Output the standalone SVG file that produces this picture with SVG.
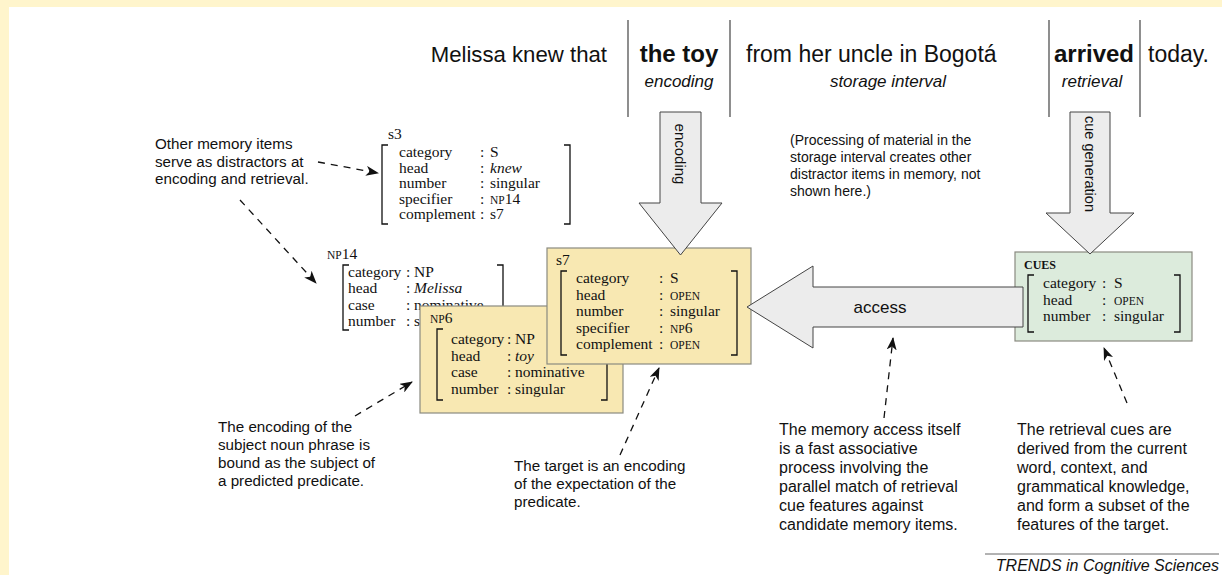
<svg xmlns="http://www.w3.org/2000/svg" width="1222" height="575" viewBox="0 0 1222 575">
<defs>
<marker id="ah" markerWidth="13" markerHeight="10" refX="12" refY="5" orient="auto" markerUnits="userSpaceOnUse">
<path d="M0,0 L13,5 L0,10 L3.5,5 Z" fill="#111"/>
</marker>
</defs>
<style>
.sans{font-family:"Liberation Sans",Arial,Helvetica,sans-serif;fill:#111}
.serif{font-family:"Liberation Serif","Times New Roman",serif;fill:#111;font-size:15.5px}
.big{font-size:23px}
.bold{font-size:24px;font-weight:bold}
.lab{font-size:17px;font-style:italic}
.note{font-size:16px}
.note15{font-size:15.2px}
.sm{font-size:14px}
.sc{font-size:11.5px}
.it{font-style:italic}
.vline{stroke:#444;stroke-width:1.2}
.arrow{fill:#ececec;stroke:#444;stroke-width:1}
.box{stroke:#8a8a80;stroke-width:1.2}
.yel{fill:#f8e8b2}
.grn{fill:#dcebdc}
.br{fill:none;stroke:#111;stroke-width:1.3}
.dash{fill:none;stroke:#111;stroke-width:1.3;stroke-dasharray:7 6;marker-end:url(#ah)}
</style>
<rect x="0" y="0" width="1222" height="575" fill="#fff5cc"/>
<rect x="9" y="7" width="1213" height="568" fill="#ffffff"/>

<g id="sentence">
<text class="sans" x="607" y="62" text-anchor="end" style="font-size:22.2px">Melissa knew that</text>
<text class="sans bold" x="679" y="62" text-anchor="middle">the toy</text>
<text class="sans lab" x="679" y="87" text-anchor="middle">encoding</text>
<text class="sans big" x="746" y="62">from her uncle in Bogotá</text>
<text class="sans lab" x="888" y="87" text-anchor="middle">storage interval</text>
<text class="sans bold" x="1094" y="62" text-anchor="middle">arrived</text>
<text class="sans lab" x="1092" y="87" text-anchor="middle">retrieval</text>
<text class="sans big" x="1148" y="62">today.</text>
<line class="vline" x1="628" y1="20" x2="628" y2="117"/>
<line class="vline" x1="730" y1="20" x2="730" y2="117"/>
<line class="vline" x1="1049" y1="20" x2="1049" y2="117"/>
<line class="vline" x1="1140" y1="20" x2="1140" y2="117"/>
</g>

<g id="s3">
<text class="serif" x="388" y="139">s3</text>
<path class="br" d="M388,145 H382 V224 H388"/>
<path class="br" d="M564,145 H570 V224 H564"/>
<text class="serif" x="399" y="157">category</text><text class="serif" x="480" y="157">:</text><text class="serif" x="490" y="157">S</text>
<text class="serif" x="399" y="172.5">head</text><text class="serif" x="480" y="172.5">:</text><text class="serif it" x="490" y="172.5">knew</text>
<text class="serif" x="399" y="188">number</text><text class="serif" x="480" y="188">:</text><text class="serif" x="490" y="188">singular</text>
<text class="serif" x="399" y="203.5">specifier</text><text class="serif" x="480" y="203.5">:</text><text class="serif" x="490" y="203.5"><tspan class="sc">NP</tspan>14</text>
<text class="serif" x="399" y="219">complement</text><text class="serif" x="480" y="219">:</text><text class="serif" x="490" y="219">s7</text>
</g>

<g id="np14">
<text class="serif" x="327" y="259"><tspan class="sc">NP</tspan>14</text>
<path class="br" d="M349,265 H343 V330 H349"/>
<path class="br" d="M497,265 H503 V330 H497"/>
<text class="serif" x="348" y="277">category</text><text class="serif" x="406" y="277">:</text><text class="serif" x="414" y="277">NP</text>
<text class="serif" x="348" y="293">head</text><text class="serif" x="406" y="293">:</text><text class="serif it" x="414" y="293">Melissa</text>
<text class="serif" x="348" y="309.5">case</text><text class="serif" x="406" y="309.5">:</text><text class="serif" x="414" y="309.5">nominative</text>
<text class="serif" x="348" y="326">number</text><text class="serif" x="406" y="326">:</text><text class="serif" x="414" y="326">singular</text>
</g>

<g id="np6">
<rect class="box yel" x="420" y="306" width="203" height="107"/>
<text class="serif" x="430" y="323"><tspan class="sc">NP</tspan>6</text>
<path class="br" d="M443,329 H437 V400 H443"/>
<path class="br" d="M601,329 H607 V400 H601"/>
<text class="serif" x="451" y="344">category</text><text class="serif" x="507" y="344">:</text><text class="serif" x="515" y="344">NP</text>
<text class="serif" x="451" y="360.5">head</text><text class="serif" x="507" y="360.5">:</text><text class="serif it" x="515" y="360.5">toy</text>
<text class="serif" x="451" y="377">case</text><text class="serif" x="507" y="377">:</text><text class="serif" x="515" y="377">nominative</text>
<text class="serif" x="451" y="393.5">number</text><text class="serif" x="507" y="393.5">:</text><text class="serif" x="515" y="393.5">singular</text>
</g>

<g id="s7">
<rect class="box yel" x="547" y="248" width="204" height="116"/>
<text class="serif" x="556" y="265">s7</text>
<path class="br" d="M567,271 H561 V355 H567"/>
<path class="br" d="M731,271 H737 V355 H731"/>
<text class="serif" x="576" y="283">category</text><text class="serif" x="659" y="283">:</text><text class="serif" x="670" y="283">S</text>
<text class="serif" x="576" y="299.5">head</text><text class="serif" x="659" y="299.5">:</text><text class="serif sc" x="670" y="299.5">OPEN</text>
<text class="serif" x="576" y="316">number</text><text class="serif" x="659" y="316">:</text><text class="serif" x="670" y="316">singular</text>
<text class="serif" x="576" y="332.5">specifier</text><text class="serif" x="659" y="332.5">:</text><text class="serif" x="670" y="332.5"><tspan class="sc">NP</tspan>6</text>
<text class="serif" x="576" y="349">complement</text><text class="serif" x="659" y="349">:</text><text class="serif sc" x="670" y="349">OPEN</text>
</g>

<g id="cues">
<rect class="box grn" x="1015" y="252" width="177" height="89"/>
<text class="serif" x="1024" y="269" style="font-size:12px;font-weight:bold">CUES</text>
<path class="br" d="M1034,275 H1028 V332 H1034"/>
<path class="br" d="M1174,275 H1180 V332 H1174"/>
<text class="serif" x="1043" y="288">category</text><text class="serif" x="1102" y="288">:</text><text class="serif" x="1114" y="288">S</text>
<text class="serif" x="1043" y="304.5">head</text><text class="serif" x="1102" y="304.5">:</text><text class="serif sc" x="1114" y="304.5">OPEN</text>
<text class="serif" x="1043" y="321">number</text><text class="serif" x="1102" y="321">:</text><text class="serif" x="1114" y="321">singular</text>
</g>

<g id="encoding-arrow">
<polygon class="arrow" points="660,112 701,112 701,203 722,203 680.5,255 639,203 660,203"/>
<text class="sans" font-size="15px" text-anchor="middle" dominant-baseline="central" transform="translate(680.5,154) rotate(90)">encoding</text>
</g>

<g id="cue-arrow">
<polygon class="arrow" points="1070,112 1110,112 1110,213 1134,213 1090,254 1046,213 1070,213"/>
<text class="sans" font-size="14.5px" text-anchor="middle" dominant-baseline="central" transform="translate(1090,164) rotate(90)">cue generation</text>
</g>

<g id="access-arrow">
<polygon class="arrow" points="1023,287 813,287 813,266 747,307 813,348 813,327 1023,327"/>
<text class="sans" font-size="17px" x="880" y="313" text-anchor="middle">access</text>
</g>

<g id="notes">
<text class="sans note15"><tspan x="155" y="149">Other memory items</tspan><tspan x="155" y="166.5">serve as distractors at</tspan><tspan x="155" y="184">encoding and retrieval.</tspan></text>
<text class="sans sm"><tspan x="790" y="145">(Processing of material in the</tspan><tspan x="790" y="162">storage interval creates other</tspan><tspan x="790" y="179">distractor items in memory, not</tspan><tspan x="790" y="196">shown here.)</tspan></text>
<text class="sans note15"><tspan x="218" y="432">The encoding of the</tspan><tspan x="218" y="450">subject noun phrase is</tspan><tspan x="218" y="468">bound as the subject of</tspan><tspan x="218" y="486">a predicted predicate.</tspan></text>
<text class="sans note15"><tspan x="514" y="471">The target is an encoding</tspan><tspan x="514" y="489">of the expectation of the</tspan><tspan x="514" y="507">predicate.</tspan></text>
<text class="sans note"><tspan x="779" y="435">The memory access itself</tspan><tspan x="779" y="454">is a fast associative</tspan><tspan x="779" y="473">process involving the</tspan><tspan x="779" y="492">parallel match of retrieval</tspan><tspan x="779" y="511">cue features against</tspan><tspan x="779" y="530">candidate memory items.</tspan></text>
<text class="sans note"><tspan x="1017" y="435">The retrieval cues are</tspan><tspan x="1017" y="454">derived from the current</tspan><tspan x="1017" y="473">word, context, and</tspan><tspan x="1017" y="492">grammatical knowledge,</tspan><tspan x="1017" y="511">and form a subset of the</tspan><tspan x="1017" y="530">features of the target.</tspan></text>
</g>

<g id="connectors">
<line class="dash" x1="318" y1="162" x2="378" y2="173"/>
<line class="dash" x1="240" y1="200" x2="316" y2="283"/>
<line class="dash" x1="355" y1="416" x2="412" y2="382"/>
<line class="dash" x1="620" y1="455" x2="659" y2="368"/>
<line class="dash" x1="884" y1="418" x2="893" y2="338"/>
<line class="dash" x1="1127" y1="403" x2="1104" y2="348"/>
</g>

<g id="footer">
<line x1="985" y1="554" x2="1219" y2="554" stroke="#666" stroke-width="1"/>
<text class="sans" font-size="16px" font-style="italic" x="1219" y="571" text-anchor="end">TRENDS in Cognitive Sciences</text>
</g>
</svg>
